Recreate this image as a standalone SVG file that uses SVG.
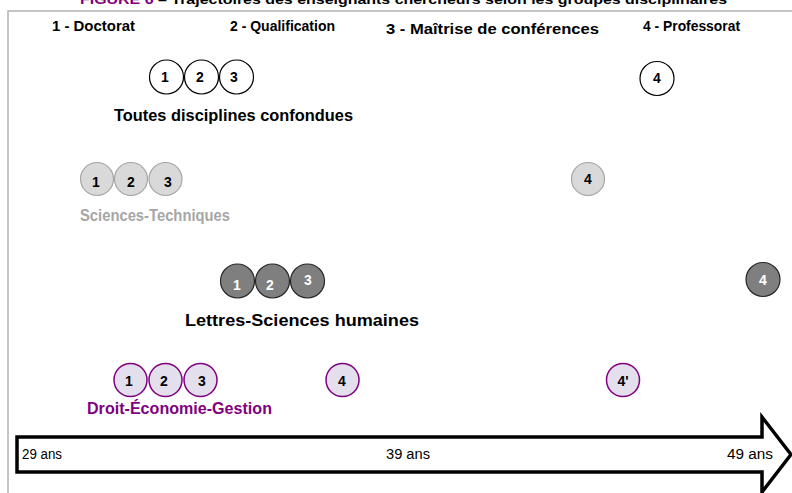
<svg xmlns="http://www.w3.org/2000/svg" width="792" height="493" viewBox="0 0 792 493">
  <style>
    text { font-family: "Liberation Sans", Arial, sans-serif; }
    .hdr { font-size: 14px; font-weight: bold; fill: #000; }
    .num { font-size: 14px; font-weight: bold; text-anchor: middle; }
    .lbl { font-size: 16.5px; font-weight: bold; }
    .age { font-size: 14px; fill: #000; }
    .c-all { fill: #ffffff; stroke: #000000; stroke-width: 1.2; }
    .c-st  { fill: #d9d9d9; stroke: #a6a6a6; stroke-width: 1.2; }
    .c-lsh { fill: #7f7f7f; stroke: #262626; stroke-width: 1.2; }
    .c-deg { fill: #e4dfec; stroke: #800080; stroke-width: 1.5; }
  </style>

  <rect width="792" height="493" fill="#ffffff"/>

  <!-- title, running past the top edge -->
  <text x="80" y="4" font-size="13" font-weight="bold" textLength="647" lengthAdjust="spacingAndGlyphs"><tspan fill="#800080">FIGURE 6</tspan><tspan fill="#000"> – Trajectoires des enseignants chercheurs selon les groupes disciplinaires</tspan></text>

  <!-- frame -->
  <rect x="8" y="11" width="800" height="500" fill="none" stroke="#b3b3b3" stroke-width="1.5"/>

  <!-- stage headers -->
  <g id="headers">
    <text class="hdr" x="52" y="31" textLength="83" lengthAdjust="spacingAndGlyphs">1 - Doctorat</text>
    <text class="hdr" x="230" y="31" textLength="105" lengthAdjust="spacingAndGlyphs">2 - Qualification</text>
    <text class="hdr" x="386" y="34" textLength="213" lengthAdjust="spacingAndGlyphs">3 - Maîtrise de conférences</text>
    <text class="hdr" x="643" y="31" textLength="97" lengthAdjust="spacingAndGlyphs">4 - Professorat</text>
  </g>

  <!-- all disciplines -->
  <g id="all">
    <circle class="c-all" cx="166.5" cy="77" r="17"/>
    <circle class="c-all" cx="201.5" cy="77" r="17"/>
    <circle class="c-all" cx="236.5" cy="77" r="17"/>
    <circle class="c-all" cx="657" cy="78.5" r="17"/>
    <text class="num" x="165" y="82">1</text>
    <text class="num" x="200" y="82">2</text>
    <text class="num" x="234" y="82">3</text>
    <text class="num" x="657" y="83">4</text>
    <text class="lbl" x="114" y="121" textLength="239" lengthAdjust="spacingAndGlyphs">Toutes disciplines confondues</text>
  </g>

  <!-- sciences-techniques -->
  <g id="st">
    <circle class="c-st" cx="97" cy="179" r="16.5"/>
    <circle class="c-st" cx="131" cy="179" r="16.5"/>
    <circle class="c-st" cx="165.5" cy="179" r="16.5"/>
    <circle class="c-st" cx="588" cy="179" r="16.5"/>
    <text class="num" x="96" y="187">1</text>
    <text class="num" x="131" y="187">2</text>
    <text class="num" x="168" y="187">3</text>
    <text class="num" x="588" y="184">4</text>
    <text class="lbl" x="80" y="221" fill="#a6a6a6" textLength="150" lengthAdjust="spacingAndGlyphs">Sciences-Techniques</text>
  </g>

  <!-- lettres-sciences humaines -->
  <g id="lsh">
    <circle class="c-lsh" cx="237.5" cy="281" r="17"/>
    <circle class="c-lsh" cx="272.5" cy="281" r="17"/>
    <circle class="c-lsh" cx="307.5" cy="281" r="17"/>
    <circle class="c-lsh" cx="763" cy="279.5" r="17"/>
    <text class="num" x="237" y="290" fill="#fff">1</text>
    <text class="num" x="270" y="290" fill="#fff">2</text>
    <text class="num" x="308" y="285" fill="#fff">3</text>
    <text class="num" x="763" y="285" fill="#fff">4</text>
    <text class="lbl" x="185" y="326" fill="#000" textLength="234" lengthAdjust="spacingAndGlyphs">Lettres-Sciences humaines</text>
  </g>

  <!-- droit-économie-gestion -->
  <g id="deg">
    <circle class="c-deg" cx="130.5" cy="380" r="16.5"/>
    <circle class="c-deg" cx="165.5" cy="380" r="16.5"/>
    <circle class="c-deg" cx="200.5" cy="380" r="16.5"/>
    <circle class="c-deg" cx="342.5" cy="380" r="16.5"/>
    <circle class="c-deg" cx="623" cy="380" r="16.5"/>
    <text class="num" x="129" y="386">1</text>
    <text class="num" x="164" y="386">2</text>
    <text class="num" x="202" y="386">3</text>
    <text class="num" x="342" y="386">4</text>
    <text class="num" x="623" y="386">4'</text>
    <text class="lbl" x="87" y="414" fill="#800080" textLength="185" lengthAdjust="spacingAndGlyphs">Droit-Économie-Gestion</text>
  </g>

  <!-- age axis -->
  <g id="axis">
    <path d="M17 437 H762 V417 L791 454.5 L762 492 V472 H17 Z" fill="#ffffff" stroke="#000" stroke-width="3.5" stroke-linejoin="miter"/>
    <text class="age" x="22" y="459" textLength="40" lengthAdjust="spacingAndGlyphs">29 ans</text>
    <text class="age" x="386" y="459" textLength="44" lengthAdjust="spacingAndGlyphs">39 ans</text>
    <text class="age" x="727" y="459" textLength="46" lengthAdjust="spacingAndGlyphs">49 ans</text>
  </g>
</svg>
